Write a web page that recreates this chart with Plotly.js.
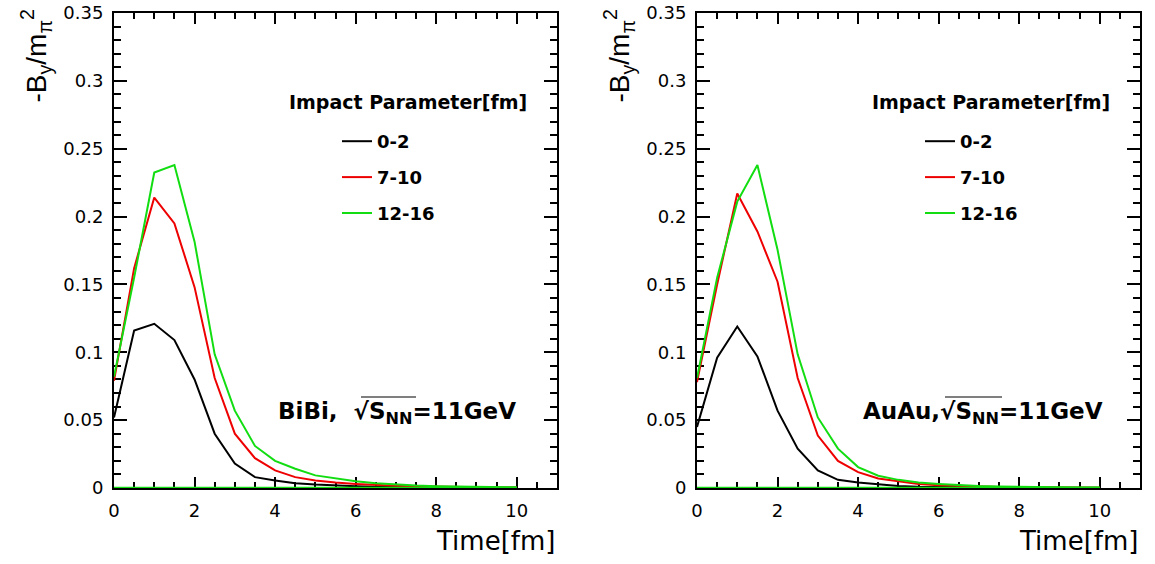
<!DOCTYPE html>
<html>
<head>
<meta charset="utf-8">
<script src="https://cdn.plot.ly/plotly-3.0.1.min.js"></script>
<style>
html,body{margin:0;padding:0;background:#fff;}
#chart{width:1155px;height:564px;}
</style>
</head>
<body>
<div id="chart"></div>
<script>
// ---- data ----
const time = [0,0.5,1,1.5,2,2.5,3,3.5,4,4.5,5,5.5,6,6.5,7,7.5,8,8.5,9,9.5,10];
const seriesNames = ['0-2','7-10','12-16'];
const seriesColors = ['#000000','#ee0000','#11dd11'];

const bibi_0_2   = [0.052,0.116,0.121,0.109,0.080,0.040,0.018,0.008,0.0056,0.0035,0.0025,0.0018,0.0013,0.001,0.0008,0.0006,0.0004,0.0003,0.0002,0.0002,0.0001];
const bibi_7_10  = [0.079,0.162,0.214,0.195,0.148,0.081,0.040,0.022,0.013,0.008,0.0056,0.004,0.003,0.0022,0.0016,0.0012,0.0009,0.0007,0.0005,0.0004,0.0003];
const bibi_12_16 = [0.082,0.155,0.2325,0.238,0.1815,0.0985,0.057,0.031,0.020,0.0142,0.0093,0.0069,0.005,0.0035,0.0025,0.0018,0.0013,0.001,0.0008,0.0006,0.0005];

const auau_0_2   = [0.045,0.096,0.119,0.097,0.057,0.029,0.013,0.006,0.004,0.0025,0.0015,0.001,0.0008,0.0006,0.0004,0.0003,0.0002,0.0002,0.0001,0.0001,0.0001];
const auau_7_10  = [0.078,0.150,0.217,0.189,0.152,0.081,0.0386,0.020,0.0117,0.007,0.005,0.003,0.002,0.0015,0.001,0.0008,0.0006,0.0005,0.0004,0.0003,0.0002];
const auau_12_16 = [0.081,0.155,0.211,0.238,0.1755,0.0985,0.052,0.029,0.0154,0.009,0.006,0.004,0.003,0.002,0.0015,0.0011,0.0008,0.0006,0.0005,0.0004,0.0003];

const baselineX = [0,10];
const baselineY = [0,0];

const yTitle = '-B<sub>y</sub>/m<sub>π</sub><sup>2</sup>';
const xTitle = 'Time[fm]';
const legendTitle = '<b>Impact Parameter[fm]</b>';
const labelBiBi = '<b>BiBi,  √S<sub>NN</sub>=11GeV</b>';
const labelAuAu = '<b>AuAu,√S<sub>NN</sub>=11GeV</b>';

// ---- layout helpers ----
const W = 1155, H = 564;
const px = v => v / W;
const py = v => 1 - v / H;
const FONT = 'DejaVu Sans, Verdana, sans-serif';
const FONT_T = 'Liberation Sans, Arial, sans-serif';

const panels = [
  {x: 'x', y: 'y', legend: 'legend', data: [bibi_0_2, bibi_7_10, bibi_12_16], off: 0},
  {x: 'x2', y: 'y2', legend: 'legend2', data: [auau_0_2, auau_7_10, auau_12_16], off: 583}
];

const traces = [];
panels.forEach(p => {
  p.data.forEach((d, i) => {
    traces.push({
      x: time, y: d, xaxis: p.x, yaxis: p.y,
      type: 'scatter', mode: 'lines', name: seriesNames[i],
      legend: p.legend, legendgroup: p.legend + i,
      line: {color: seriesColors[i], width: 2},
      hoverinfo: 'x+y'
    });
  });
  traces.push({
    x: baselineX, y: baselineY, xaxis: p.x, yaxis: p.y,
    type: 'scatter', mode: 'lines', showlegend: false,
    line: {color: seriesColors[2], width: 2.5}, hoverinfo: 'skip'
  });
});

function xax(domain, anchor) {
  return {
    domain: domain, anchor: anchor, range: [0, 11], autorange: false,
    showgrid: false, zeroline: false, showline: true, linecolor: '#000', linewidth: 2,
    mirror: 'ticks', ticks: 'inside', ticklen: 11, tickwidth: 1.5, tickcolor: '#000',
    dtick: 2, tick0: 0, layer: 'below traces',
    minor: {ticks: 'inside', dtick: 0.5, ticklen: 6, tickwidth: 1.5, tickcolor: '#000'},
    tickfont: {family: FONT, size: 18, color: '#000'},
    ticklabelstandoff: 5, automargin: false
  };
}
function yax(anchor) {
  return {
    domain: [py(488), py(13)], anchor: anchor, range: [0, 0.35], autorange: false,
    showgrid: false, zeroline: false, showline: true, linecolor: '#000', linewidth: 2,
    mirror: 'ticks', ticks: 'inside', ticklen: 13, tickwidth: 1.5, tickcolor: '#000',
    dtick: 0.05, tick0: 0, layer: 'below traces',
    minor: {ticks: 'inside', dtick: 0.01, ticklen: 7, tickwidth: 1.5, tickcolor: '#000'},
    tickfont: {family: FONT, size: 18, color: '#000'},
    ticklabelstandoff: 5, automargin: false
  };
}

const annotations = [];
const shapes = [];
const legends = {};
panels.forEach((p, k) => {
  const o = p.off;
  annotations.push({xref: 'paper', yref: 'paper', x: px(36 + o), y: py(8), xanchor: 'center', yanchor: 'top',
    textangle: -90, text: yTitle, showarrow: false, font: {family: FONT_T, size: 28, color: '#000'}});
  annotations.push({xref: 'paper', yref: 'paper', x: px(557 + o), y: py(558), xanchor: 'right', yanchor: 'bottom',
    text: xTitle, showarrow: false, font: {family: FONT, size: 26, color: '#000'}});
  annotations.push({xref: 'paper', yref: 'paper', x: px(407.5 + o), y: py(102), xanchor: 'center', yanchor: 'middle',
    text: legendTitle, showarrow: false, font: {family: FONT, size: 19, color: '#000'}});
  annotations.push({xref: 'paper', yref: 'paper', x: px((k === 0 ? 397 : 983 - 583) + o), y: py(413), xanchor: 'center', yanchor: 'middle',
    text: k === 0 ? labelBiBi : labelAuAu, showarrow: false, font: {family: FONT, size: 23, color: '#000'}});
  legends[p.legend] = {
    x: px(337 + o), y: py(123), xanchor: 'left', yanchor: 'top',
    bgcolor: 'rgba(0,0,0,0)', borderwidth: 0,
    font: {family: FONT, size: 18, color: '#000', weight: 'bold'},
    tracegroupgap: 9.5, itemclick: false, itemdoubleclick: false
  };
});
// overline of the square root
shapes.push({type: 'line', xref: 'paper', yref: 'paper', x0: px(361), x1: px(416), y0: py(397), y1: py(397), line: {color: '#000', width: 1.2}});
shapes.push({type: 'line', xref: 'paper', yref: 'paper', x0: px(945), x1: px(1002), y0: py(397), y1: py(397), line: {color: '#000', width: 1.2}});

const layout = Object.assign({
  width: W, height: H,
  margin: {l: 0, r: 0, t: 0, b: 0},
  paper_bgcolor: '#fff', plot_bgcolor: '#fff',
  showlegend: true,
  xaxis: xax([px(114), px(557)], 'y'),
  yaxis: yax('x'),
  xaxis2: xax([px(697), px(1140)], 'y2'),
  yaxis2: yax('x2'),
  annotations: annotations,
  shapes: shapes
}, legends);

Plotly.newPlot('chart', traces, layout, {displayModeBar: false});
</script>
</body>
</html>
